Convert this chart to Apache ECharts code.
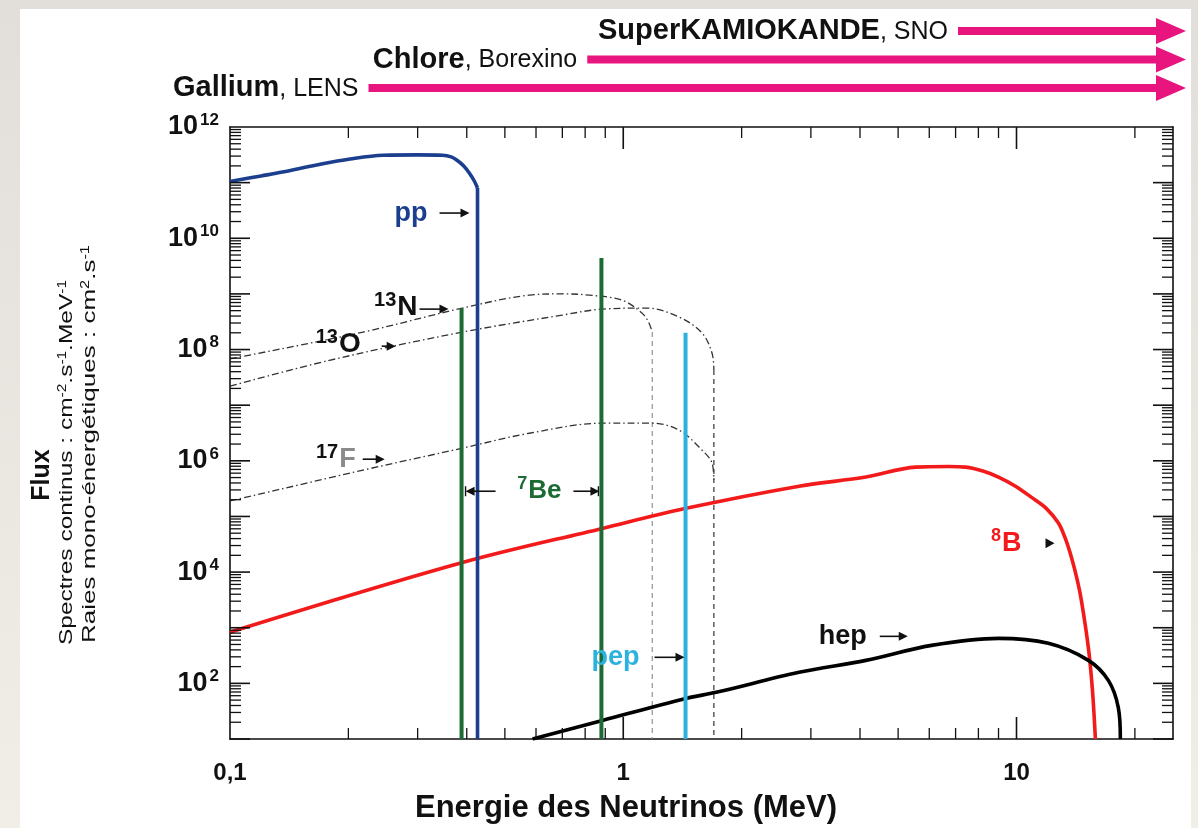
<!DOCTYPE html>
<html>
<head>
<meta charset="utf-8">
<script src="https://cdn.jsdelivr.net/npm/echarts@6/dist/echarts.min.js"></script>
<style>
  html, body { margin: 0; padding: 0; width: 1198px; height: 828px; overflow: hidden;
    background: linear-gradient(#e2dfda, #f1eee8); }
  #sheet { position: absolute; left: 20px; top: 9px; width: 1171px; height: 819px; background: #fff; }
  #chart { position: absolute; left: 0; top: 0; width: 1198px; height: 828px; }
</style>
</head>
<body>
<div id="sheet"></div>
<div id="chart"></div>
<script>
// ---- Solar neutrino spectra (energy in MeV, flux) ----
const ppEnergy = [0.100, 0.120, 0.136, 0.166, 0.202, 0.245, 0.300, 0.347, 0.365, 0.377, 0.393, 0.406, 0.418, 0.426];
const ppFlux   = [1.05e11, 1.32e11, 1.55e11, 2.07e11, 2.65e11, 3.1e11, 3.15e11, 3.1e11, 2.9e11, 2.55e11, 2.0e11, 1.49e11, 1.07e11, 8.0e10];
const ppCut    = [0.426, 10];

const n13Energy = [0.100, 0.218, 0.390, 0.577, 0.700, 0.820, 0.994, 1.117, 1.160, 1.185];
const n13Flux   = [6.8e7, 2.06e8, 5.56e8, 9.5e8, 1.0e9, 9.5e8, 7.7e8, 4.5e8, 3.1e8, 2.06e8];
const n13Cut    = [1.185, 10];

const o13Energy = [0.100, 0.179, 0.390, 0.700, 0.885, 1.144, 1.387, 1.587, 1.682, 1.700];
const o13Flux   = [2.2e7, 6.4e7, 2.06e8, 4.16e8, 5.33e8, 5.56e8, 3.83e8, 1.97e8, 8.6e7, 4.3e7];
const o13Cut    = [1.700, 10];

const f17Energy = [0.100, 0.218, 0.390, 0.577, 0.885, 1.185, 1.387, 1.587, 1.682, 1.700];
const f17Flux   = [1.9e5, 6.8e5, 1.69e6, 3.13e6, 4.74e6, 4.74e6, 3.55e6, 1.55e6, 9.1e5, 4.5e5];

const b8Energy = [0.100, 0.384, 0.885, 1.445, 2.80, 4.14, 5.54, 6.72, 7.42, 8.25, 9.00, 9.94, 10.92, 11.9, 12.78, 13.3, 13.79, 14.28, 14.62, 15.23, 15.6, 15.87];
const b8Flux   = [8.3e2, 1.44e4, 6.1e4, 1.4e5, 3.5e5, 5.1e5, 7.7e5, 7.9e5, 7.7e5, 6.5e5, 5.1e5, 3.5e5, 2.2e5, 1.4e5, 7.6e4, 4.06e4, 1.85e4, 7.1e3, 3.1e3, 4.4e2, 75, 10];

const hepEnergy = [0.588, 0.885, 1.445, 1.722, 2.80, 4.14, 6.08, 9.00, 12.05, 15.23, 17.12, 18.15, 18.37];
const hepFlux   = [10, 21.6, 53.7, 68.9, 158, 259, 482, 644, 524, 259, 113, 36.7, 10];

// mono-energetic lines: energy and line height
const be7Energy = [0.388, 0.880];
const be7Flux   = [5.5e8, 4.4e9];
const pepEnergy = 1.44;
const pepFlux   = 2.0e8;

// detector thresholds (MeV)
const detectorBold = ['Gallium', 'Chlore', 'SuperKAMIOKANDE'];
const detectorRest = [', LENS', ', Borexino', ', SNO'];
const detectorThreshold = [0.225, 0.81, 7.1];

// axis labels
const xTickText = { '-1': '0,1', '0': '1', '1': '10' };
const yLabelExponents = [2, 4, 6, 8, 10, 12];

const FONT = '"Liberation Sans", Arial, Helvetica, sans-serif';
const PINK = '#e9157f';
const BLUE = '#1b3f8e';
const GREEN = '#1d6b34';
const CYAN = '#2db2e0';
const RED = '#f21a1a';

const zip = (a, b) => a.map((v, i) => [v, b[i]]);
const last = a => a[a.length - 1];

const measureCtx = document.createElement('canvas').getContext('2d');
function textWidth(parts) {
  return parts.reduce((w, p) => { measureCtx.font = p[1]; return w + measureCtx.measureText(p[0]).width; }, 0);
}

// axis ticks drawn as a custom series (log-spaced minor ticks)
const tickData = [];
[0.1, 1, 10].forEach(d => {
  for (let m = 1; m <= 9; m++) {
    const v = d * m;
    if (v <= 25) tickData.push([v, 1e6, 0, m === 1 ? 1 : 0]);
  }
});
for (let e = 1; e < 12; e++) {
  for (let m = 1; m <= 9; m++) tickData.push([1, m * Math.pow(10, e), 1, m === 1 ? 1 : 0]);
}

function renderTick(params, api) {
  const cs = params.coordSys;
  const kind = api.value(2);
  const major = api.value(3);
  const style = { stroke: '#111', lineWidth: major ? 1.6 : 1.3 };
  if (kind === 0) {
    const x = api.coord([api.value(0), 1e6])[0];
    if (x <= cs.x + 1 || x >= cs.x + cs.width - 1) return null;
    const len = major ? 22 : 11;
    const b = cs.y + cs.height;
    return { type: 'group', children: [
      { type: 'line', shape: { x1: x, y1: b, x2: x, y2: b - len }, style },
      { type: 'line', shape: { x1: x, y1: cs.y, x2: x, y2: cs.y + len }, style }
    ]};
  }
  const y = api.coord([1, api.value(1)])[1];
  const len = major ? 20 : 11;
  const r = cs.x + cs.width;
  return { type: 'group', children: [
    { type: 'line', shape: { x1: cs.x, y1: y, x2: cs.x + len, y2: y }, style },
    { type: 'line', shape: { x1: r, y1: y, x2: r - len, y2: y }, style }
  ]};
}

const DET_BOLD = 'bold 29px ' + FONT;
const DET_REST = '25px ' + FONT;
function renderDetector(params, api) {
  const cs = params.coordSys;
  const i = params.dataIndex;
  const x0 = api.coord([api.value(0), 1e12])[0];
  const y = cs.y - 39 - i * 28.5;
  const tip = cs.x + cs.width + 13;
  const restW = textWidth([[detectorRest[i], DET_REST]]);
  return { type: 'group', children: [
    { type: 'rect', shape: { x: x0, y: y - 4, width: tip - 26 - x0, height: 8 }, style: { fill: PINK } },
    { type: 'polygon', shape: { points: [[tip - 30, y - 13], [tip, y], [tip - 30, y + 13]] }, style: { fill: PINK } },
    { type: 'text', x: x0 - 10, y: y + 1, style: { text: detectorRest[i], font: DET_REST, fill: '#111', align: 'right', verticalAlign: 'middle' } },
    { type: 'text', x: x0 - 10 - restW, y: y, style: { text: detectorBold[i], font: DET_BOLD, fill: '#111', align: 'right', verticalAlign: 'middle' } }
  ]};
}

const lineSeries = (name, data, color, width, type, smooth) => ({
  name, type: 'line', data, symbol: 'none', silent: true, animation: false,
  smooth: smooth || false,
  lineStyle: { color, width, type: type || 'solid', join: 'round', cap: 'butt' }
});

const chart = echarts.init(document.getElementById('chart'), null, { renderer: 'canvas' });

const xAxisBase = {
  type: 'log', logBase: 10, min: 0.1, max: 25, interval: 1,
  axisLine: { show: true, lineStyle: { color: '#111', width: 1.6 } },
  axisTick: { show: false }, splitLine: { show: false }, minorTick: { show: false }
};
const yAxisBase = {
  type: 'log', logBase: 10, min: 10, max: 1e12, interval: 1,
  axisLine: { show: true, lineStyle: { color: '#111', width: 1.6 } },
  axisTick: { show: false }, splitLine: { show: false }, minorTick: { show: false }
};

chart.setOption({
  animation: false,
  grid: { left: 230, top: 127, right: 25, bottom: 89, containLabel: false },
  xAxis: [
    Object.assign({}, xAxisBase, {
      position: 'bottom',
      axisLabel: {
        margin: 22, color: '#111', fontFamily: FONT, fontWeight: 'bold', fontSize: 24, hideOverlap: false,
        formatter: v => {
          const e = Math.log10(v), r = Math.round(e);
          return Math.abs(e - r) < 1e-6 ? (xTickText[String(r)] || '') : '';
        }
      }
    }),
    Object.assign({}, xAxisBase, { position: 'top', axisLabel: { show: false } })
  ],
  yAxis: [
    Object.assign({}, yAxisBase, {
      position: 'left',
      axisLabel: {
        margin: 11, color: '#111', hideOverlap: false,
        formatter: v => {
          const e = Math.round(Math.log10(v));
          if (Math.abs(Math.log10(v) - e) > 1e-6 || yLabelExponents.indexOf(e) < 0) return '';
          return '{b|10}{s|' + e + '}';
        },
        rich: {
          b: { fontFamily: FONT, fontWeight: 'bold', fontSize: 27, color: '#111' },
          s: { fontFamily: FONT, fontWeight: 'bold', fontSize: 17, color: '#111', verticalAlign: 'top', padding: [0, 0, 14, 2] }
        }
      }
    }),
    Object.assign({}, yAxisBase, { position: 'right', axisLabel: { show: false } })
  ],
  series: [
    { type: 'custom', name: 'ticks', data: tickData, renderItem: renderTick, silent: true, z: 5 },
    { type: 'custom', name: 'detectors', data: detectorThreshold.map(t => [t, 1e12]), renderItem: renderDetector, silent: true, clip: false, z: 5 },
    lineSeries('13N', zip(n13Energy, n13Flux), '#333', 1.3, [7, 3, 1.5, 3], 0.35),
    lineSeries('13N cut', [[n13Cut[0], last(n13Flux)], n13Cut], '#888', 1.1, [5, 4]),
    lineSeries('13O', zip(o13Energy, o13Flux), '#333', 1.3, [7, 3, 1.5, 3], 0.35),
    lineSeries('13O cut', [[o13Cut[0], last(o13Flux)], o13Cut], '#333', 1.2, [5, 4]),
    lineSeries('17F', zip(f17Energy, f17Flux), '#333', 1.3, [7, 3, 1.5, 3], 0.35),
    lineSeries('8B', zip(b8Energy, b8Flux), RED, 3.6, 'solid', 0.35),
    lineSeries('hep', zip(hepEnergy, hepFlux), '#000', 3.6, 'solid', 0.35),
    lineSeries('7Be 1', [[be7Energy[0], 10], [be7Energy[0], be7Flux[0]]], GREEN, 4),
    lineSeries('7Be 2', [[be7Energy[1], 10], [be7Energy[1], be7Flux[1]]], GREEN, 4),
    lineSeries('pep', [[pepEnergy, 10], [pepEnergy, pepFlux]], CYAN, 4),
    lineSeries('pp', zip(ppEnergy, ppFlux), BLUE, 3.6, 'solid', 0.35),
    lineSeries('pp cut', [[ppCut[0], last(ppFlux)], ppCut], BLUE, 3.6)
  ]
});

// ---- annotations anchored in data space ----
const px = (e, f) => chart.convertToPixel({ xAxisIndex: 0, yAxisIndex: 0 }, [e, f]);

function arrow(x1, y, x2, head) {
  const dir = x2 > x1 ? 1 : -1;
  const h = head || 9;
  return [
    { type: 'line', shape: { x1, y1: y, x2: x2 - dir * h * 0.8, y2: y }, style: { stroke: '#111', lineWidth: 1.6 } },
    { type: 'polygon', shape: { points: [[x2, y], [x2 - dir * h, y - 4.5], [x2 - dir * h, y + 4.5]] }, style: { fill: '#111' } }
  ];
}
function label(xRight, y, sup, base, color, supSize, baseSize, baseColor) {
  return {
    type: 'text', x: xRight, y,
    style: {
      text: (sup ? '{s|' + sup + '}' : '') + '{b|' + base + '}',
      align: 'right', verticalAlign: 'middle',
      rich: {
        s: { fontFamily: FONT, fontWeight: 'bold', fontSize: supSize || 18, fill: color, verticalAlign: 'top', padding: [0, 1, 14, 0] },
        b: { fontFamily: FONT, fontWeight: 'bold', fontSize: baseSize || 25, fill: baseColor || color }
      }
    }
  };
}

const g = [];
let p;
// pp
p = px(0.4065, 2.84e10);
g.push(label(p[0] - 42, p[1], '', 'pp', BLUE, 0, 27), ...arrow(p[0] - 30, p[1], p[0]));
// 13N
p = px(0.3595, 5.33e8);
g.push(label(p[0] - 31, p[1] - 2, '13', 'N', '#111', 20, 28), ...arrow(p[0] - 29, p[1], p[0]));
// 13O
p = px(0.2638, 1.15e8);
g.push(label(p[0] - 35, p[1] - 2, '13', 'O', '#111', 20, 28), ...arrow(p[0] - 14, p[1], p[0]));
// 17F
p = px(0.2474, 1.07e6);
g.push(label(p[0] - 29, p[1], '17', 'F', '#111', 20, 27, '#8a8a8a'), ...arrow(p[0] - 22, p[1], p[0]));
// 7Be
const pL = px(be7Energy[0], 2.84e5), pR = px(be7Energy[1], 2.84e5);
g.push(label((pL[0] + pR[0]) / 2 + 30, pL[1], '7', 'Be', GREEN, 18, 26));
g.push(...arrow(pL[0] + 34, pL[1], pL[0] + 4), ...arrow(pR[0] - 28, pR[1], pR[0] - 2));
g.push({ type: 'line', shape: { x1: pL[0] + 4, y1: pL[1] - 5, x2: pL[0] + 4, y2: pL[1] + 5 }, style: { stroke: '#111', lineWidth: 1.4 } });
g.push({ type: 'line', shape: { x1: pR[0] - 3, y1: pR[1] - 5, x2: pR[0] - 3, y2: pR[1] + 5 }, style: { stroke: '#111', lineWidth: 1.4 } });
// pep
p = px(pepEnergy, 294);
g.push(label(p[0] - 46, p[1], '', 'pep', CYAN, 0, 27), ...arrow(p[0] - 31, p[1], p[0] - 1));
// hep
p = px(5.29, 700);
g.push(label(p[0] - 41, p[1], '', 'hep', '#111', 0, 27), ...arrow(p[0] - 28, p[1], p[0]));
// 8B
p = px(12.49, 3.3e4);
g.push(label(p[0] - 33, p[1], '8', 'B', RED, 18, 27));
g.push({ type: 'polygon', shape: { points: [[p[0], p[1]], [p[0] - 9, p[1] - 5], [p[0] - 9, p[1] + 5]] }, style: { fill: '#111' } });

// axis titles
g.push({ type: 'text', x: 626, y: 808, style: { text: 'Energie des Neutrinos (MeV)', font: 'bold 31px ' + FONT, fill: '#111', align: 'center', verticalAlign: 'middle' } });
g.push({ type: 'text', x: 42, y: 475, rotation: Math.PI / 2, style: { text: 'Flux', font: 'bold 25px ' + FONT, fill: '#111', align: 'center', verticalAlign: 'middle' } });

// rotated unit lines, stretched along the text to their printed length
function unitLine(x, yStart, length, parts) {
  const A = '19px ' + FONT, S = '12px ' + FONT;
  const w = textWidth(parts.map(pt => [pt[0], pt[1] ? S : A]));
  const text = parts.map(pt => (pt[1] ? '{s|' : '{a|') + pt[0] + '}').join('');
  return { type: 'text', x, y: yStart, rotation: Math.PI / 2, scaleX: length / w, scaleY: 1, style: {
    text, align: 'left', verticalAlign: 'middle',
    rich: { a: { fontFamily: FONT, fontSize: 19, fill: '#111' }, s: { fontFamily: FONT, fontSize: 12, fill: '#111', verticalAlign: 'top', padding: [0, 0, 8, 0] } } } };
}
g.push(unitLine(67, 645, 365, [['Spectres continus : cm'], ['-2', 1], ['.s'], ['-1', 1], ['.MeV'], ['-1', 1]]));
g.push(unitLine(90, 643, 398, [['Raies mono-énergétiques : cm'], ['2', 1], ['.s'], ['-1', 1]]));

chart.setOption({ graphic: g.map(el => Object.assign({ silent: true, z: 100 }, el)) });
</script>
</body>
</html>
